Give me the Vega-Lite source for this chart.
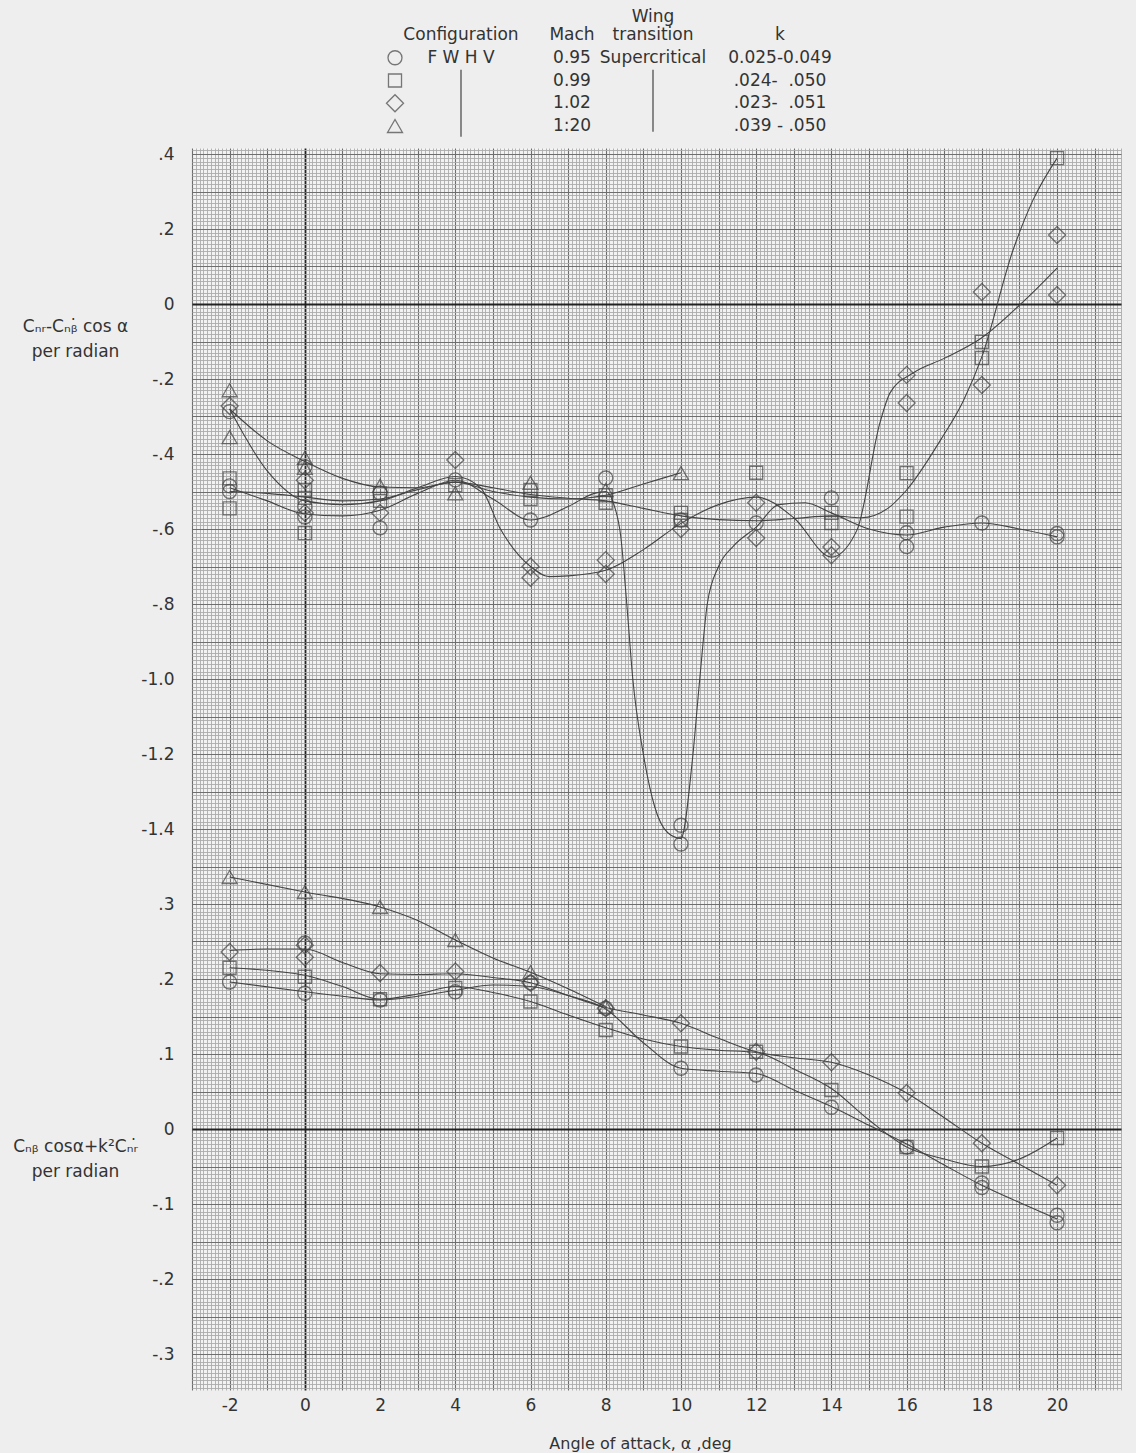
{
"$schema": "https://vega.github.io/schema/vega-lite/v6.json",
"width": 929, "height": 1242,
"autosize": {"type": "none"},
"padding": {"left": 192, "top": 148, "right": 15, "bottom": 63},
"background": "#eeeeee",
"config": {"font": "DejaVu Sans", "view": {"stroke": null, "fill": "#f2f2f2"},
  "axis": {"labelFont": "DejaVu Sans", "labelFontSize": 17, "labelColor": "#333", "titleFont": "DejaVu Sans", "titleFontSize": 17, "titleFontWeight": "normal", "titleColor": "#333"}},
"datasets": {
"pts": [
{"p":"U","m":0.95,"a":-2,"v":-0.287},{"p":"U","m":0.95,"a":-2,"v":-0.485},{"p":"U","m":0.95,"a":-2,"v":-0.50},{"p":"U","m":0.95,"a":0,"v":-0.434},{"p":"U","m":0.95,"a":0,"v":-0.54},{"p":"U","m":0.95,"a":0,"v":-0.568},{"p":"U","m":0.95,"a":2,"v":-0.504},{"p":"U","m":0.95,"a":2,"v":-0.597},{"p":"U","m":0.95,"a":4,"v":-0.469},{"p":"U","m":0.95,"a":6,"v":-0.576},{"p":"U","m":0.95,"a":8,"v":-0.464},{"p":"U","m":0.95,"a":10,"v":-0.576},{"p":"U","m":0.95,"a":10,"v":-1.39},{"p":"U","m":0.95,"a":10,"v":-1.44},{"p":"U","m":0.95,"a":12,"v":-0.584},{"p":"U","m":0.95,"a":14,"v":-0.517},{"p":"U","m":0.95,"a":16,"v":-0.61},{"p":"U","m":0.95,"a":16,"v":-0.647},{"p":"U","m":0.95,"a":18,"v":-0.584},{"p":"U","m":0.95,"a":20,"v":-0.612},{"p":"U","m":0.95,"a":20,"v":-0.621},
{"p":"U","m":0.99,"a":-2,"v":-0.465},{"p":"U","m":0.99,"a":-2,"v":-0.545},{"p":"U","m":0.99,"a":0,"v":-0.496},{"p":"U","m":0.99,"a":0,"v":-0.517},{"p":"U","m":0.99,"a":0,"v":-0.611},{"p":"U","m":0.99,"a":2,"v":-0.505},{"p":"U","m":0.99,"a":2,"v":-0.525},{"p":"U","m":0.99,"a":4,"v":-0.483},{"p":"U","m":0.99,"a":6,"v":-0.496},{"p":"U","m":0.99,"a":6,"v":-0.52},{"p":"U","m":0.99,"a":8,"v":-0.51},{"p":"U","m":0.99,"a":8,"v":-0.53},{"p":"U","m":0.99,"a":10,"v":-0.557},{"p":"U","m":0.99,"a":10,"v":-0.576},{"p":"U","m":0.99,"a":12,"v":-0.45},{"p":"U","m":0.99,"a":14,"v":-0.557},{"p":"U","m":0.99,"a":14,"v":-0.584},{"p":"U","m":0.99,"a":16,"v":-0.451},{"p":"U","m":0.99,"a":16,"v":-0.567},{"p":"U","m":0.99,"a":18,"v":-0.101},{"p":"U","m":0.99,"a":18,"v":-0.144},{"p":"U","m":0.99,"a":20,"v":0.389},
{"p":"U","m":1.02,"a":-2,"v":-0.272},{"p":"U","m":1.02,"a":0,"v":-0.47},{"p":"U","m":1.02,"a":0,"v":-0.557},{"p":"U","m":1.02,"a":2,"v":-0.557},{"p":"U","m":1.02,"a":4,"v":-0.416},{"p":"U","m":1.02,"a":6,"v":-0.70},{"p":"U","m":1.02,"a":6,"v":-0.73},{"p":"U","m":1.02,"a":8,"v":-0.683},{"p":"U","m":1.02,"a":8,"v":-0.72},{"p":"U","m":1.02,"a":10,"v":-0.60},{"p":"U","m":1.02,"a":12,"v":-0.53},{"p":"U","m":1.02,"a":12,"v":-0.624},{"p":"U","m":1.02,"a":14,"v":-0.648},{"p":"U","m":1.02,"a":14,"v":-0.67},{"p":"U","m":1.02,"a":16,"v":-0.189},{"p":"U","m":1.02,"a":16,"v":-0.264},{"p":"U","m":1.02,"a":18,"v":0.032},{"p":"U","m":1.02,"a":18,"v":-0.216},{"p":"U","m":1.02,"a":20,"v":0.184},{"p":"U","m":1.02,"a":20,"v":0.024},
{"p":"U","m":1.2,"a":-2,"v":-0.23},{"p":"U","m":1.2,"a":-2,"v":-0.355},{"p":"U","m":1.2,"a":0,"v":-0.41},{"p":"U","m":1.2,"a":0,"v":-0.437},{"p":"U","m":1.2,"a":2,"v":-0.485},{"p":"U","m":1.2,"a":4,"v":-0.505},{"p":"U","m":1.2,"a":6,"v":-0.477},{"p":"U","m":1.2,"a":8,"v":-0.496},{"p":"U","m":1.2,"a":10,"v":-0.451},
{"p":"L","m":0.95,"a":-2,"v":0.196},{"p":"L","m":0.95,"a":0,"v":0.181},{"p":"L","m":0.95,"a":0,"v":0.248},{"p":"L","m":0.95,"a":2,"v":0.172},{"p":"L","m":0.95,"a":4,"v":0.183},{"p":"L","m":0.95,"a":6,"v":0.195},{"p":"L","m":0.95,"a":8,"v":0.161},{"p":"L","m":0.95,"a":10,"v":0.081},{"p":"L","m":0.95,"a":12,"v":0.072},{"p":"L","m":0.95,"a":14,"v":0.029},{"p":"L","m":0.95,"a":16,"v":-0.024},{"p":"L","m":0.95,"a":18,"v":-0.072},{"p":"L","m":0.95,"a":18,"v":-0.078},{"p":"L","m":0.95,"a":20,"v":-0.115},{"p":"L","m":0.95,"a":20,"v":-0.125},
{"p":"L","m":0.99,"a":-2,"v":0.215},{"p":"L","m":0.99,"a":0,"v":0.203},{"p":"L","m":0.99,"a":2,"v":0.173},{"p":"L","m":0.99,"a":4,"v":0.188},{"p":"L","m":0.99,"a":6,"v":0.17},{"p":"L","m":0.99,"a":8,"v":0.132},{"p":"L","m":0.99,"a":10,"v":0.11},{"p":"L","m":0.99,"a":12,"v":0.103},{"p":"L","m":0.99,"a":14,"v":0.052},{"p":"L","m":0.99,"a":16,"v":-0.024},{"p":"L","m":0.99,"a":18,"v":-0.05},{"p":"L","m":0.99,"a":20,"v":-0.012},
{"p":"L","m":1.02,"a":-2,"v":0.236},{"p":"L","m":1.02,"a":0,"v":0.229},{"p":"L","m":1.02,"a":0,"v":0.245},{"p":"L","m":1.02,"a":2,"v":0.208},{"p":"L","m":1.02,"a":4,"v":0.21},{"p":"L","m":1.02,"a":6,"v":0.195},{"p":"L","m":1.02,"a":8,"v":0.161},{"p":"L","m":1.02,"a":10,"v":0.141},{"p":"L","m":1.02,"a":12,"v":0.103},{"p":"L","m":1.02,"a":14,"v":0.089},{"p":"L","m":1.02,"a":16,"v":0.048},{"p":"L","m":1.02,"a":18,"v":-0.019},{"p":"L","m":1.02,"a":20,"v":-0.075},
{"p":"L","m":1.2,"a":-2,"v":0.336},{"p":"L","m":1.2,"a":0,"v":0.316},{"p":"L","m":1.2,"a":2,"v":0.296},{"p":"L","m":1.2,"a":4,"v":0.252},{"p":"L","m":1.2,"a":6,"v":0.209},{"p":"L","m":1.2,"a":8,"v":0.163}
],
"crv": [
{"p":"U","m":1.2,"a":-2,"v":-0.28},{"p":"U","m":1.2,"a":-1,"v":-0.365},{"p":"U","m":1.2,"a":0,"v":-0.42},{"p":"U","m":1.2,"a":1,"v":-0.465},{"p":"U","m":1.2,"a":2,"v":-0.488},{"p":"U","m":1.2,"a":3,"v":-0.49},{"p":"U","m":1.2,"a":4,"v":-0.475},{"p":"U","m":1.2,"a":5,"v":-0.5},{"p":"U","m":1.2,"a":6,"v":-0.515},{"p":"U","m":1.2,"a":7,"v":-0.52},{"p":"U","m":1.2,"a":8,"v":-0.51},{"p":"U","m":1.2,"a":9,"v":-0.48},{"p":"U","m":1.2,"a":10,"v":-0.45},
{"p":"U","m":1.02,"a":-2,"v":-0.28},{"p":"U","m":1.02,"a":-1,"v":-0.445},{"p":"U","m":1.02,"a":0,"v":-0.525},{"p":"U","m":1.02,"a":1,"v":-0.535},{"p":"U","m":1.02,"a":2,"v":-0.525},{"p":"U","m":1.02,"a":3,"v":-0.49},{"p":"U","m":1.02,"a":4,"v":-0.46},{"p":"U","m":1.02,"a":4.67,"v":-0.49},{"p":"U","m":1.02,"a":5.2,"v":-0.6},{"p":"U","m":1.02,"a":6,"v":-0.70},{"p":"U","m":1.02,"a":6.5,"v":-0.727},{"p":"U","m":1.02,"a":7,"v":-0.725},{"p":"U","m":1.02,"a":8,"v":-0.71},{"p":"U","m":1.02,"a":9,"v":-0.655},{"p":"U","m":1.02,"a":10,"v":-0.585},{"p":"U","m":1.02,"a":11,"v":-0.535},{"p":"U","m":1.02,"a":12,"v":-0.515},{"p":"U","m":1.02,"a":13,"v":-0.57},{"p":"U","m":1.02,"a":14,"v":-0.675},{"p":"U","m":1.02,"a":14.68,"v":-0.603},{"p":"U","m":1.02,"a":15.29,"v":-0.317},{"p":"U","m":1.02,"a":15.56,"v":-0.237},{"p":"U","m":1.02,"a":16.17,"v":-0.184},{"p":"U","m":1.02,"a":17,"v":-0.145},{"p":"U","m":1.02,"a":18,"v":-0.09},{"p":"U","m":1.02,"a":19.15,"v":0.011},{"p":"U","m":1.02,"a":20,"v":0.096},
{"p":"U","m":0.99,"a":-2,"v":-0.50},{"p":"U","m":0.99,"a":-1,"v":-0.505},{"p":"U","m":0.99,"a":0,"v":-0.515},{"p":"U","m":0.99,"a":1,"v":-0.525},{"p":"U","m":0.99,"a":2,"v":-0.52},{"p":"U","m":0.99,"a":3,"v":-0.495},{"p":"U","m":0.99,"a":4,"v":-0.475},{"p":"U","m":0.99,"a":5,"v":-0.49},{"p":"U","m":0.99,"a":6,"v":-0.508},{"p":"U","m":0.99,"a":7,"v":-0.518},{"p":"U","m":0.99,"a":8,"v":-0.525},{"p":"U","m":0.99,"a":9,"v":-0.545},{"p":"U","m":0.99,"a":10,"v":-0.565},{"p":"U","m":0.99,"a":11,"v":-0.575},{"p":"U","m":0.99,"a":12,"v":-0.578},{"p":"U","m":0.99,"a":13,"v":-0.572},{"p":"U","m":0.99,"a":14,"v":-0.565},{"p":"U","m":0.99,"a":14.8,"v":-0.57},{"p":"U","m":0.99,"a":15.5,"v":-0.545},{"p":"U","m":0.99,"a":16,"v":-0.496},{"p":"U","m":0.99,"a":16.9,"v":-0.363},{"p":"U","m":0.99,"a":17.5,"v":-0.26},{"p":"U","m":0.99,"a":18,"v":-0.141},{"p":"U","m":0.99,"a":18.83,"v":0.144},{"p":"U","m":0.99,"a":19.36,"v":0.277},{"p":"U","m":0.99,"a":20,"v":0.389},
{"p":"U","m":0.95,"a":-2,"v":-0.49},{"p":"U","m":0.95,"a":-1,"v":-0.525},{"p":"U","m":0.95,"a":0,"v":-0.56},{"p":"U","m":0.95,"a":1,"v":-0.565},{"p":"U","m":0.95,"a":2,"v":-0.55},{"p":"U","m":0.95,"a":3,"v":-0.505},{"p":"U","m":0.95,"a":4,"v":-0.47},{"p":"U","m":0.95,"a":5,"v":-0.52},{"p":"U","m":0.95,"a":6,"v":-0.576},{"p":"U","m":0.95,"a":7,"v":-0.54},{"p":"U","m":0.95,"a":7.7,"v":-0.505},{"p":"U","m":0.95,"a":8,"v":-0.50},{"p":"U","m":0.95,"a":8.2,"v":-0.53},{"p":"U","m":0.95,"a":8.4,"v":-0.62},{"p":"U","m":0.95,"a":8.56,"v":-0.8},{"p":"U","m":0.95,"a":8.72,"v":-1.0},{"p":"U","m":0.95,"a":9.0,"v":-1.2},{"p":"U","m":0.95,"a":9.3,"v":-1.34},{"p":"U","m":0.95,"a":9.65,"v":-1.41},{"p":"U","m":0.95,"a":10,"v":-1.425},{"p":"U","m":0.95,"a":10.3,"v":-1.22},{"p":"U","m":0.95,"a":10.5,"v":-1.0},{"p":"U","m":0.95,"a":10.7,"v":-0.8},{"p":"U","m":0.95,"a":11.0,"v":-0.7},{"p":"U","m":0.95,"a":11.4,"v":-0.645},{"p":"U","m":0.95,"a":12,"v":-0.595},{"p":"U","m":0.95,"a":12.6,"v":-0.535},{"p":"U","m":0.95,"a":13.3,"v":-0.53},{"p":"U","m":0.95,"a":14,"v":-0.557},{"p":"U","m":0.95,"a":15,"v":-0.6},{"p":"U","m":0.95,"a":16,"v":-0.616},{"p":"U","m":0.95,"a":17,"v":-0.595},{"p":"U","m":0.95,"a":18,"v":-0.584},{"p":"U","m":0.95,"a":19,"v":-0.6},{"p":"U","m":0.95,"a":20,"v":-0.621},
{"p":"L","m":1.2,"a":-2,"v":0.336},{"p":"L","m":1.2,"a":0,"v":0.316},{"p":"L","m":1.2,"a":2,"v":0.296},{"p":"L","m":1.2,"a":3,"v":0.278},{"p":"L","m":1.2,"a":4,"v":0.252},{"p":"L","m":1.2,"a":5,"v":0.228},{"p":"L","m":1.2,"a":6,"v":0.209},{"p":"L","m":1.2,"a":7,"v":0.187},{"p":"L","m":1.2,"a":8,"v":0.163},
{"p":"L","m":1.02,"a":-2,"v":0.238},{"p":"L","m":1.02,"a":-1,"v":0.24},{"p":"L","m":1.02,"a":0,"v":0.24},{"p":"L","m":1.02,"a":1,"v":0.222},{"p":"L","m":1.02,"a":2,"v":0.207},{"p":"L","m":1.02,"a":3,"v":0.206},{"p":"L","m":1.02,"a":4,"v":0.207},{"p":"L","m":1.02,"a":5,"v":0.202},{"p":"L","m":1.02,"a":6,"v":0.195},{"p":"L","m":1.02,"a":7,"v":0.178},{"p":"L","m":1.02,"a":8,"v":0.162},{"p":"L","m":1.02,"a":9,"v":0.152},{"p":"L","m":1.02,"a":10,"v":0.141},{"p":"L","m":1.02,"a":11,"v":0.121},{"p":"L","m":1.02,"a":12,"v":0.103},{"p":"L","m":1.02,"a":13,"v":0.095},{"p":"L","m":1.02,"a":14,"v":0.089},{"p":"L","m":1.02,"a":15,"v":0.072},{"p":"L","m":1.02,"a":16,"v":0.048},{"p":"L","m":1.02,"a":17,"v":0.015},{"p":"L","m":1.02,"a":18,"v":-0.019},{"p":"L","m":1.02,"a":19,"v":-0.047},{"p":"L","m":1.02,"a":20,"v":-0.075},
{"p":"L","m":0.99,"a":-2,"v":0.215},{"p":"L","m":0.99,"a":0,"v":0.205},{"p":"L","m":0.99,"a":1,"v":0.19},{"p":"L","m":0.99,"a":2,"v":0.173},{"p":"L","m":0.99,"a":3,"v":0.18},{"p":"L","m":0.99,"a":4,"v":0.19},{"p":"L","m":0.99,"a":5,"v":0.182},{"p":"L","m":0.99,"a":6,"v":0.17},{"p":"L","m":0.99,"a":7,"v":0.152},{"p":"L","m":0.99,"a":8,"v":0.135},{"p":"L","m":0.99,"a":9,"v":0.12},{"p":"L","m":0.99,"a":10,"v":0.11},{"p":"L","m":0.99,"a":11,"v":0.105},{"p":"L","m":0.99,"a":12,"v":0.102},{"p":"L","m":0.99,"a":13,"v":0.08},{"p":"L","m":0.99,"a":14,"v":0.054},{"p":"L","m":0.99,"a":15,"v":0.012},{"p":"L","m":0.99,"a":16,"v":-0.024},{"p":"L","m":0.99,"a":17,"v":-0.04},{"p":"L","m":0.99,"a":18,"v":-0.05},{"p":"L","m":0.99,"a":19,"v":-0.04},{"p":"L","m":0.99,"a":20,"v":-0.012},
{"p":"L","m":0.95,"a":-2,"v":0.196},{"p":"L","m":0.95,"a":0,"v":0.183},{"p":"L","m":0.95,"a":1,"v":0.177},{"p":"L","m":0.95,"a":2,"v":0.172},{"p":"L","m":0.95,"a":3,"v":0.177},{"p":"L","m":0.95,"a":4,"v":0.185},{"p":"L","m":0.95,"a":5,"v":0.192},{"p":"L","m":0.95,"a":6,"v":0.19},{"p":"L","m":0.95,"a":7,"v":0.178},{"p":"L","m":0.95,"a":8,"v":0.16},{"p":"L","m":0.95,"a":9,"v":0.115},{"p":"L","m":0.95,"a":10,"v":0.081},{"p":"L","m":0.95,"a":11,"v":0.077},{"p":"L","m":0.95,"a":12,"v":0.074},{"p":"L","m":0.95,"a":13,"v":0.052},{"p":"L","m":0.95,"a":14,"v":0.03},{"p":"L","m":0.95,"a":15,"v":0.005},{"p":"L","m":0.95,"a":16,"v":-0.02},{"p":"L","m":0.95,"a":17,"v":-0.048},{"p":"L","m":0.95,"a":18,"v":-0.075},{"p":"L","m":0.95,"a":19,"v":-0.098},{"p":"L","m":0.95,"a":20,"v":-0.12}
],
"leg": [
{"k":"t","c":4,"r":0,"t":"Wing"},
{"k":"t","c":2,"r":1,"t":"Configuration"},{"k":"t","c":3,"r":1,"t":"Mach"},{"k":"t","c":4,"r":1,"t":"transition"},{"k":"t","c":5,"r":1,"t":"k"},
{"k":"s","c":1,"r":2,"m":0.95},{"k":"t","c":2,"r":2,"t":"F W H V"},{"k":"t","c":3,"r":2,"t":"0.95"},{"k":"t","c":4,"r":2,"t":"Supercritical"},{"k":"t","c":5,"r":2,"t":"0.025-0.049"},
{"k":"s","c":1,"r":3,"m":0.99},{"k":"t","c":3,"r":3,"t":"0.99"},{"k":"t","c":5,"r":3,"t":".024-\u00a0\u00a0.050"},
{"k":"s","c":1,"r":4,"m":1.02},{"k":"t","c":3,"r":4,"t":"1.02"},{"k":"t","c":5,"r":4,"t":".023-\u00a0\u00a0.051"},
{"k":"s","c":1,"r":5,"m":1.2},{"k":"t","c":3,"r":5,"t":"1:20"},{"k":"t","c":5,"r":5,"t":".039 - .050"},
{"k":"b","c":2,"r":2.53,"r2":5.47},{"k":"b","c":4,"r":2.53,"r2":5.25}
]
},
"layer": [
{
 "layer": [
  {
   "data": {"name": "crv"},
   "transform": [{"filter": "datum.p == 'U'"}],
   "mark": {"type": "line", "interpolate": "monotone", "color": "#444", "strokeWidth": 1.1},
   "encoding": {
    "x": {"field": "a", "type": "quantitative", "scale": {"domain": [-3, 21.7], "nice": false, "zero": false},
      "axis": {"title": "Angle of attack, α ,deg", "tickCount": 247, "grid": true,
        "gridColor": {"condition": [{"test": "abs(datum.value) < 0.001", "value": "#222"}, {"test": "abs(datum.value - round(datum.value)) < 0.001", "value": "#6e6e6e"}], "value": "#ababab"},
        "gridWidth": {"condition": [{"test": "abs(datum.value) < 0.001", "value": 1.8}, {"test": "abs(datum.value - round(datum.value)) < 0.001", "value": 1.1}], "value": 0.9},
        "ticks": false, "domain": false, "labelOverlap": false, "labelBound": false, "labelFlush": false, "labelPadding": 7,
        "labelExpr": "(abs(datum.value/2 - round(datum.value/2)) < 0.001 && datum.value > -2.5 && datum.value < 20.5) ? ((datum.value < -0.5 ? '-' : '') + toString(abs(round(datum.value)))) : ''",
        "titleX": 448, "titleY": 53, "titleBaseline": "middle", "titleAlign": "center", "titleFontSize": 16}},
    "y": {"field": "v", "type": "quantitative", "scale": {"domain": [-2.896, 0.416], "nice": false, "zero": false},
      "axis": {"title": ["Cₙᵣ-Cₙᵦ̇ cos α", "per radian"], "tickCount": 331, "grid": true,
        "gridColor": {"condition": [{"test": "abs(datum.value) < 0.001 || abs(datum.value + 2.2) < 0.001", "value": "#222"}, {"test": "abs(datum.value*10 - round(datum.value*10)) < 0.001", "value": "#6e6e6e"}], "value": "#ababab"},
        "gridWidth": {"condition": [{"test": "abs(datum.value) < 0.001 || abs(datum.value + 2.2) < 0.001", "value": 1.8}, {"test": "abs(datum.value*10 - round(datum.value*10)) < 0.001", "value": 1.1}], "value": 0.9},
        "ticks": false, "domain": false, "labelOverlap": false, "labelBound": false, "labelFlush": false, "labelPadding": 18,
        "labelExpr": "(abs(datum.value*5 - round(datum.value*5)) < 0.001 && datum.value > -1.45 && datum.value < 0.45) ? (abs(datum.value) < 0.001 ? '0' : ((datum.value < 0 ? '-' : '') + replace(format(abs(datum.value), '.1f'), '0.', '.'))) : ''",
        "titleAngle": 0, "titleX": -117, "titleY": 170, "titleAlign": "center", "titleBaseline": "top", "titleLineHeight": 25}},
    "detail": {"field": "m", "type": "nominal"}
   }
  },
  {
   "data": {"name": "pts"},
   "transform": [{"filter": "datum.p == 'U'"}],
   "mark": {"type": "point", "filled": false, "color": "#444", "strokeWidth": 1.3},
   "encoding": {
    "x": {"field": "a", "type": "quantitative"},
    "y": {"field": "v", "type": "quantitative"},
    "shape": {"field": "m", "type": "nominal", "scale": {"domain": [0.95, 0.99, 1.02, 1.2], "range": ["circle", "square", "diamond", "triangle-up"]}, "legend": null},
    "size": {"field": "m", "type": "quantitative", "scale": {"domain": [0.95, 0.99, 1.02, 1.2], "range": [196, 170, 290, 225], "zero": false, "nice": false}, "legend": null}
   }
  }
 ]
},
{
 "layer": [
  {
   "data": {"name": "crv"},
   "transform": [{"filter": "datum.p == 'L'"}],
   "mark": {"type": "line", "interpolate": "monotone", "color": "#444", "strokeWidth": 1.1},
   "encoding": {
    "x": {"field": "a", "type": "quantitative", "scale": {"domain": [-3, 21.7], "nice": false, "zero": false}, "axis": null},
    "y": {"field": "v", "type": "quantitative", "scale": {"domain": [-0.348, 1.308], "nice": false, "zero": false},
      "axis": {"orient": "left", "title": ["Cₙᵦ cosα+k²Cₙᵣ̇", "per radian"], "values": [-0.3, -0.2, -0.1, 0, 0.1, 0.2, 0.3], "grid": false,
        "ticks": false, "domain": false, "labelOverlap": false, "labelBound": false, "labelFlush": false, "labelPadding": 18,
        "labelExpr": "abs(datum.value) < 0.001 ? '0' : ((datum.value < 0 ? '-' : '') + replace(format(abs(datum.value), '.1f'), '0.', '.'))",
        "titleAngle": 0, "titleX": -117, "titleY": 990, "titleAlign": "center", "titleBaseline": "top", "titleLineHeight": 25}},
    "detail": {"field": "m", "type": "nominal"}
   }
  },
  {
   "data": {"name": "pts"},
   "transform": [{"filter": "datum.p == 'L'"}],
   "mark": {"type": "point", "filled": false, "color": "#444", "strokeWidth": 1.3},
   "encoding": {
    "x": {"field": "a", "type": "quantitative", "axis": null},
    "y": {"field": "v", "type": "quantitative"},
    "shape": {"field": "m", "type": "nominal", "legend": null},
    "size": {"field": "m", "type": "quantitative", "legend": null}
   }
  }
 ]
},
{
 "data": {"name": "leg"},
 "encoding": {
  "x": {"field": "c", "type": "quantitative", "scale": {"domain": [1, 2, 3, 4, 5], "range": [203, 269, 380, 461, 588], "nice": false, "zero": false}, "axis": null},
  "y": {"field": "r", "type": "quantitative", "scale": {"domain": [0, 1, 5], "range": [-131, -113, -22], "nice": false, "zero": false}, "axis": null}
 },
 "layer": [
  {"transform": [{"filter": "datum.k == 't'"}], "mark": {"type": "text", "fontSize": 17, "color": "#333", "align": "center", "baseline": "middle", "font": "DejaVu Sans"}, "encoding": {"text": {"field": "t"}}},
  {"transform": [{"filter": "datum.k == 's'"}], "mark": {"type": "point", "filled": false, "color": "#444", "strokeWidth": 1.3}, "encoding": {"shape": {"field": "m", "type": "nominal", "legend": null}, "size": {"field": "m", "type": "quantitative", "legend": null}}},
  {"transform": [{"filter": "datum.k == 'b'"}], "mark": {"type": "rule", "color": "#444", "strokeWidth": 1.2}, "encoding": {"y2": {"field": "r2"}}}
 ]
}
],
"resolve": {"scale": {"x": "independent", "y": "independent"}}
}
